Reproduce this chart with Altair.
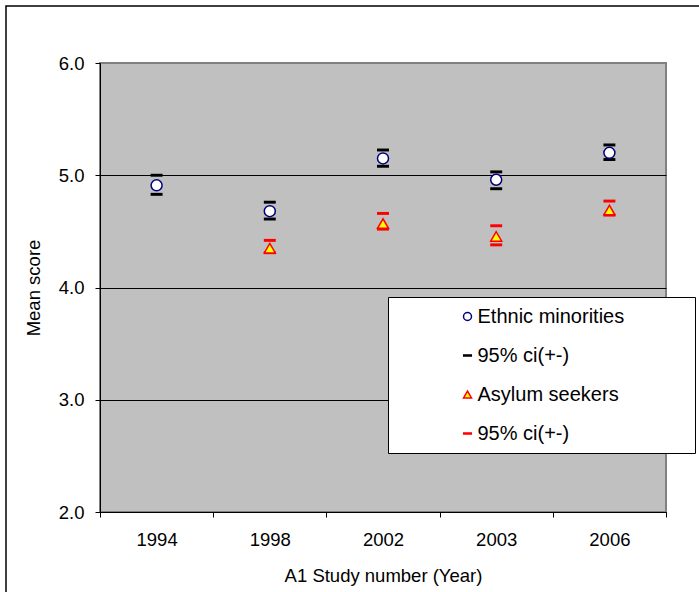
import altair as alt
import pandas as pd

years = ["1994", "1998", "2002", "2003", "2006"]
eth_mean = [4.91, 4.68, 5.15, 4.96, 5.20]
eth_hi = [5.00, 4.76, 5.225, 5.03, 5.27]
eth_lo = [4.83, 4.61, 5.08, 4.88, 5.14]

asy_years = ["1998", "2002", "2003", "2006"]
asy_mean = [4.35, 4.57, 4.455, 4.69]
asy_hi = [4.42, 4.66, 4.55, 4.77]
asy_lo = [4.31, 4.52, 4.38, 4.645]

series = ["Ethnic minorities", "95% ci(+-)", "Asylum seekers", "95% ci(+-) "]

rows = []
for y, m, h, l in zip(years, eth_mean, eth_hi, eth_lo):
    rows.append({"year": y, "value": m, "series": series[0]})
    rows.append({"year": y, "value": h, "series": series[1]})
    rows.append({"year": y, "value": l, "series": series[1]})
for y, m, h, l in zip(asy_years, asy_mean, asy_hi, asy_lo):
    rows.append({"year": y, "value": h, "series": series[3]})
    rows.append({"year": y, "value": l, "series": series[3]})
    rows.append({"year": y, "value": m, "series": series[2]})
df = pd.DataFrame(rows)

dash = "M-0.95,-0.13H0.95V0.13H-0.95Z"
FONT = "Liberation Sans"
pad = "\u00a0" * 11 + "\u200b"
leg = alt.Legend(labelExpr=f"datum.label + '{pad}'")

points = alt.Chart(df).mark_point(filled=True, size=121, strokeWidth=1.5, opacity=1).encode(
    x=alt.X("year:N", sort=years, title="A1 Study number (Year)",
            scale=alt.Scale(paddingInner=0, paddingOuter=0),
            axis=alt.Axis(labelAngle=0, tickBand="extent", grid=False, tickSize=5,
                          labelPadding=13, titlePadding=18)),
    y=alt.Y("value:Q", title="Mean score",
            scale=alt.Scale(domain=[2, 6], nice=False, zero=False),
            axis=alt.Axis(values=[2, 3, 4, 5, 6], format=".1f", tickSize=5,
                          labelPadding=11, titlePadding=15,
                          gridColor={"condition": {"test": "datum.value == 6", "value": "#808080"}, "value": "black"})),
    shape=alt.Shape("series:N", title=None, legend=leg,
                    scale=alt.Scale(domain=series, range=["circle", dash, "triangle-up", dash])),
    fill=alt.Fill("series:N", title=None, legend=leg,
                  scale=alt.Scale(domain=series, range=["white", "black", "yellow", "red"])),
    stroke=alt.Stroke("series:N", title=None, legend=leg,
                      scale=alt.Scale(domain=series, range=["#000080", "black", "red", "red"])),
    order=alt.Order("series:N"),
)

frame = alt.Chart(pd.DataFrame({"a": [0]})).mark_rect(fillOpacity=0, stroke="black", strokeWidth=1.5).encode(
    x=alt.value(-94), y=alt.value(-57), x2=alt.value(800), y2=alt.value(700)
)

chart = alt.layer(points, frame).properties(
    width=566, height=449,
    padding={"left": 100, "top": 63, "right": 33, "bottom": 80},
    autosize=alt.AutoSizeParams(type="none"),
).configure(font=FONT).configure_view(
    fill="#c0c0c0", stroke="#808080", strokeWidth=2
).configure_axis(
    labelFont=FONT, titleFont=FONT, labelFontSize=18.5, titleFontSize=18.5,
    labelColor="black", titleColor="black", domainColor="black", tickColor="black",
    titleFontWeight="normal", gridWidth=1, domainWidth=1
).configure_legend(
    orient="none", legendX=288, legendY=234, padding=9.5,
    fillColor="white", strokeColor="black", strokeWidth=1,
    labelFont=FONT, labelFontSize=20, labelColor="black", labelLimit=400,
    symbolSize=64, symbolStrokeWidth=1.5, symbolOffset=60, labelOffset=0,
    rowPadding=19, symbolType="circle"
)

chart.save("out.html", embed_options={"renderer": "svg", "actions": False})
